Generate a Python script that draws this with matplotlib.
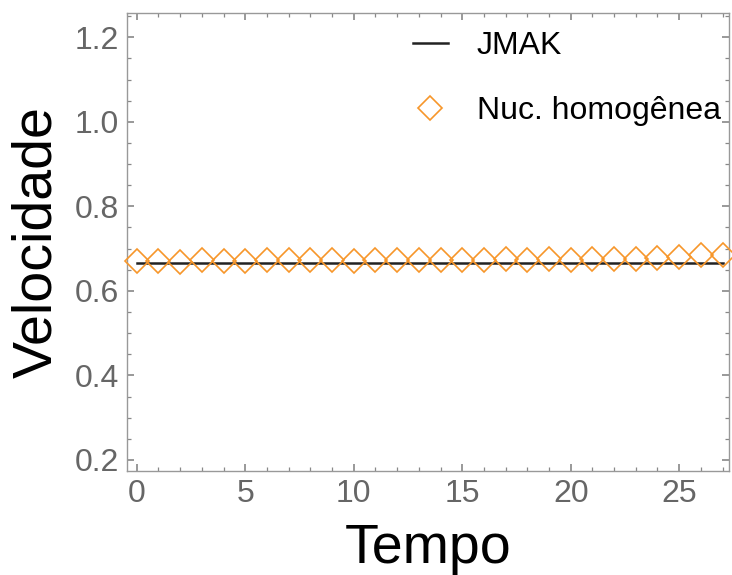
import matplotlib
matplotlib.use('Agg')
import matplotlib.pyplot as plt
from matplotlib.ticker import MultipleLocator

plt.rcParams['font.family'] = ['Liberation Sans', 'DejaVu Sans']

# dados
tempo = list(range(28))
jmak = [2 / 3] * 28
nuc_homogenea = [0.670, 0.670, 0.668, 0.672, 0.670, 0.670, 0.672, 0.672,
                 0.673, 0.672, 0.671, 0.672, 0.672, 0.672, 0.673, 0.674,
                 0.674, 0.675, 0.674, 0.675, 0.674, 0.675, 0.676, 0.676,
                 0.677, 0.680, 0.684, 0.685]

laranja = '#f7962a'
cinza = '#666666'

fig = plt.figure(figsize=(7.32, 5.75), dpi=100)
ax = fig.add_axes([0.1735, 0.181, 0.8225, 0.796])

ax.plot(tempo, jmak, color='#222222', lw=1.8, label='JMAK', zorder=2)
ax.plot(tempo, nuc_homogenea, ls='none', marker='D', ms=12, mfc='none',
        mec=laranja, mew=1.2, label='Nuc. homogênea', zorder=3, clip_on=False)

ax.set_xlim(-0.45, 27.3)
ax.set_ylim(0.174, 1.257)
ax.xaxis.set_major_locator(MultipleLocator(5))
ax.xaxis.set_minor_locator(MultipleLocator(1))
ax.yaxis.set_major_locator(MultipleLocator(0.2))
ax.yaxis.set_minor_locator(MultipleLocator(0.05))
ax.yaxis.set_major_formatter(matplotlib.ticker.FormatStrFormatter('%.1f'))

ax.tick_params(which='both', direction='in', top=True, right=True,
               color='#888888', labelcolor=cinza, labelsize=23)
ax.tick_params(which='major', length=5, width=1.2, pad=6)
ax.tick_params(which='minor', length=3, width=0.9)
for s in ax.spines.values():
    s.set_color('#999999')
    s.set_linewidth(1.0)

ax.set_xlabel('Tempo', fontsize=40, labelpad=10)
ax.set_ylabel('Velocidade', fontsize=40, labelpad=8)

ax.legend(loc='upper right', bbox_to_anchor=(1.01, 0.993), frameon=False,
          fontsize=23, handlelength=1.1, handletextpad=0.9,
          labelspacing=1.1, borderaxespad=0.05)

fig.savefig('out.png', dpi=100)
